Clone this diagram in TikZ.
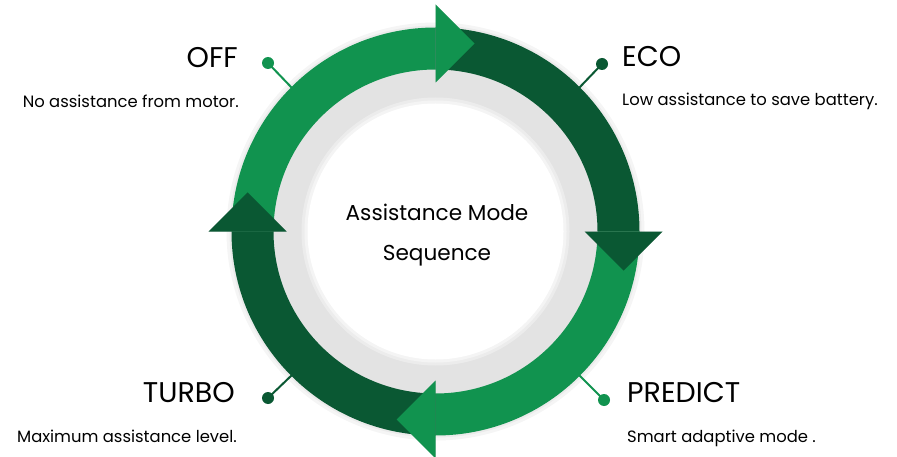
\documentclass[tikz,border=0pt]{standalone}
\usepackage{fontspec}
\setmainfont{Poppins}
\usetikzlibrary{calc}
\definecolor{lightg}{HTML}{11934F}
\definecolor{darkg}{HTML}{0A5833}
\definecolor{ringgray}{HTML}{E3E3E3}
\tikzset{
  title/.style={inner sep=0pt, font=\fontsize{28.5}{28.5}\selectfont, text=black},
  desc/.style={inner sep=0pt, font=\fontsize{16.4}{16.4}\selectfont, text=black},
  ctext/.style={inner sep=0pt, font=\fontsize{21.6}{21.6}\selectfont, text=black},
  dot/.style={circle, inner sep=0pt, minimum size=12pt},
  stem/.style={line width=2pt},
}
\begin{document}
\begin{tikzpicture}[x=1pt,y=1pt]
\useasboundingbox (0,0) rectangle (897,456);
\coordinate (c) at (435.5,224.5);
% faint outer shadow
\fill[black,opacity=0.04] (c) circle[radius=209];
\fill[black,opacity=0.04] (c) circle[radius=206];
% gray ring and white centre with soft edge
\fill[ringgray] (c) circle[radius=163];
\fill[white,opacity=0.35] (c) circle[radius=134];
\fill[white,opacity=0.45] (c) circle[radius=131];
\fill[white] (c) circle[radius=128];
% arc bodies
\fill[lightg] ($(c)+(180:204)$) arc[start angle=180,end angle=90,radius=204]
  -- ($(c)+(90:162)$) arc[start angle=90,end angle=180,radius=162] -- cycle;
\fill[darkg] ($(c)+(90:204)$) arc[start angle=90,end angle=0,radius=204]
  -- ($(c)+(0:162)$) arc[start angle=0,end angle=90,radius=162] -- cycle;
\fill[lightg] ($(c)+(0:204)$) arc[start angle=0,end angle=-90,radius=204]
  -- ($(c)+(-90:162)$) arc[start angle=-90,end angle=0,radius=162] -- cycle;
\fill[darkg] ($(c)+(-90:204)$) arc[start angle=-90,end angle=-180,radius=204]
  -- ($(c)+(-180:162)$) arc[start angle=-180,end angle=-90,radius=162] -- cycle;
% arrow heads (with faint shadow)
\begin{scope}[shift={(1.5,-1.5)}]
\fill[black,opacity=0.15] ($(c)+(0,227)$) -- ($(c)+(39,188)$) -- ($(c)+(0,149)$) -- cycle;
\fill[black,opacity=0.15] ($(c)+(227,0)$) -- ($(c)+(188,-39)$) -- ($(c)+(149,0)$) -- cycle;
\fill[black,opacity=0.15] ($(c)+(0,-227)$) -- ($(c)+(-39,-188)$) -- ($(c)+(0,-149)$) -- cycle;
\fill[black,opacity=0.15] ($(c)+(-227,0)$) -- ($(c)+(-188,39)$) -- ($(c)+(-149,0)$) -- cycle;
\end{scope}
\fill[lightg] ($(c)+(0,227)$) -- ($(c)+(39,188)$) -- ($(c)+(0,149)$) -- cycle;
\fill[darkg] ($(c)+(227,0)$) -- ($(c)+(188,-39)$) -- ($(c)+(149,0)$) -- cycle;
\fill[lightg] ($(c)+(0,-227)$) -- ($(c)+(-39,-188)$) -- ($(c)+(0,-149)$) -- cycle;
\fill[darkg] ($(c)+(-227,0)$) -- ($(c)+(-188,39)$) -- ($(c)+(-149,0)$) -- cycle;
% centre text
\node[ctext, anchor=base] (ct1) at (437,236) {Assistance Mode};
\node[ctext, anchor=base] (ct2) at (437,196) {Sequence};
% ring anchor points
\coordinate (pOff) at ($(c)+(135:203)$);
\coordinate (pEco) at ($(c)+(45:203)$);
\coordinate (pPre) at ($(c)+(-45:203)$);
\coordinate (pTur) at ($(c)+(-135:203)$);
% dots and stems
\node[dot, fill=lightg] (dOff) at (268,393) {};
\node[dot, fill=darkg] (dEco) at (602,392) {};
\node[dot, fill=lightg] (dPre) at (604,56) {};
\node[dot, fill=darkg] (dTur) at (268,58) {};
\draw[stem, lightg] (dOff.center) -- (pOff);
\draw[stem, darkg] (dEco.center) -- (pEco);
\draw[stem, lightg] (dPre.center) -- (pPre);
\draw[stem, darkg] (dTur.center) -- (pTur);
% labels
\node[title, anchor=base east] (tOff) at (238,388) {OFF};
\node[desc, anchor=base east] (sOff) at (239,348) {No assistance from motor.};
\node[title, anchor=base west] (tEco) at (622,389) {ECO};
\node[desc, anchor=base west] (sEco) at (622,350) {Low assistance to save battery.};
\node[title, anchor=base east] (tTur) at (235,54) {TURBO};
\node[desc, anchor=base east] (sTur) at (237,14) {Maximum assistance level.};
\node[title, anchor=base west] (tPre) at (627,54) {PREDICT};
\node[desc, anchor=base west] (sPre) at (627,14) {Smart adaptive mode .};
\end{tikzpicture}
\end{document}
